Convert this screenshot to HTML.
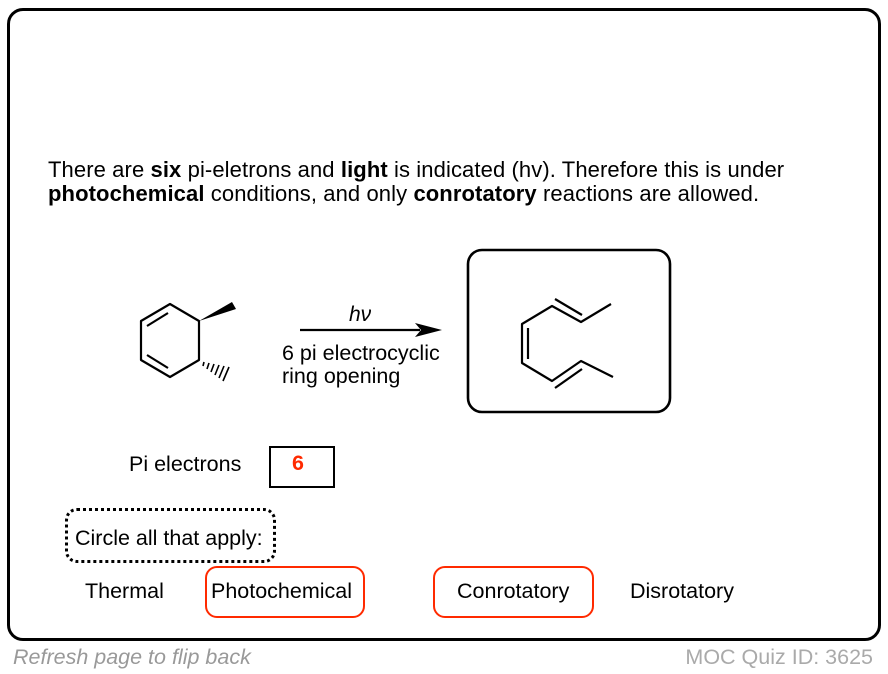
<!DOCTYPE html>
<html><head><meta charset="utf-8"><style>
body{margin:0;width:888px;height:674px;background:#fff;position:relative;font-family:"Liberation Sans",Arial,sans-serif;overflow:hidden}
.a{position:absolute;white-space:nowrap;font-size:21.5px;line-height:24px}
</style></head><body>
<div class="a" style="left:7px;top:8px;width:868px;height:627px;border:3px solid #000;border-radius:16px"></div>
<div class="a" style="left:48px;top:158px;font-size:22px;letter-spacing:0.1px;line-height:24px;color:#000">There are <b>six</b> pi-eletrons and <b>light</b> is indicated (hv). Therefore this is under<br><b>photochemical</b> conditions, and only <b>conrotatory</b> reactions are allowed.</div>
<svg class="a" style="left:0;top:0" width="888" height="674">
<g stroke="#000" stroke-width="2.2" fill="none" stroke-linejoin="round">
<polygon points="170,304 199,321 199,360 170,377 141,360 141,321"/>
<line x1="147" y1="326" x2="168" y2="313"/>
<line x1="147" y1="355" x2="168" y2="368"/>
<line x1="300" y1="330" x2="420" y2="330"/>
<rect x="468" y="250" width="202" height="162" rx="14" stroke-width="2.6"/>
<polyline points="611,304 581,322 552,306 522,324 522,363 552,381 581,361 613,377"/>
<line x1="528" y1="328" x2="528" y2="359"/>
<line x1="555" y1="299" x2="582" y2="315"/>
<line x1="555" y1="388" x2="582" y2="369"/>
</g>
<polygon points="199,321 232,302 236,309" fill="#000"/>
<g stroke="#000" stroke-width="1.6">
<line x1="204" y1="362" x2="203" y2="366"/><line x1="209" y1="363" x2="207" y2="369"/><line x1="214" y1="364" x2="211" y2="372"/><line x1="219" y1="365" x2="215" y2="375"/><line x1="224" y1="366" x2="219" y2="378"/><line x1="229" y1="367" x2="223" y2="381"/>
</g>
<polygon points="442,330 415,323 421,330 415,337" fill="#000"/>
</svg>
<div class="a" style="left:349px;top:303px;font-size:21px;font-style:italic">hν</div>
<div class="a" style="left:282px;top:342px;font-size:21.5px;line-height:23px">6 pi electrocyclic<br>ring opening</div>
<div class="a" style="left:129px;top:452px">Pi electrons</div>
<div class="a" style="left:269px;top:446px;width:62px;height:38px;border:2px solid #000"></div>
<div class="a" style="left:292px;top:451px;font-weight:bold;color:#ff2a00">6</div>
<div class="a" style="left:65px;top:508px;width:205px;height:49px;border:3px dotted #000;border-radius:12px"></div>
<div class="a" style="left:75px;top:526px">Circle all that apply:</div>
<div class="a" style="left:85px;top:579px">Thermal</div>
<div class="a" style="left:205px;top:566px;width:156px;height:48px;border:2px solid #ff2a00;border-radius:12px"></div>
<div class="a" style="left:211px;top:579px">Photochemical</div>
<div class="a" style="left:433px;top:566px;width:157px;height:48px;border:2px solid #ff2a00;border-radius:12px"></div>
<div class="a" style="left:457px;top:579px">Conrotatory</div>
<div class="a" style="left:630px;top:579px">Disrotatory</div>
<div class="a" style="left:13px;top:645px;font-style:italic;color:#999">Refresh page to flip back</div>
<div class="a" style="right:15px;top:645px;color:#aaa">MOC Quiz ID: 3625</div>
</body></html>
